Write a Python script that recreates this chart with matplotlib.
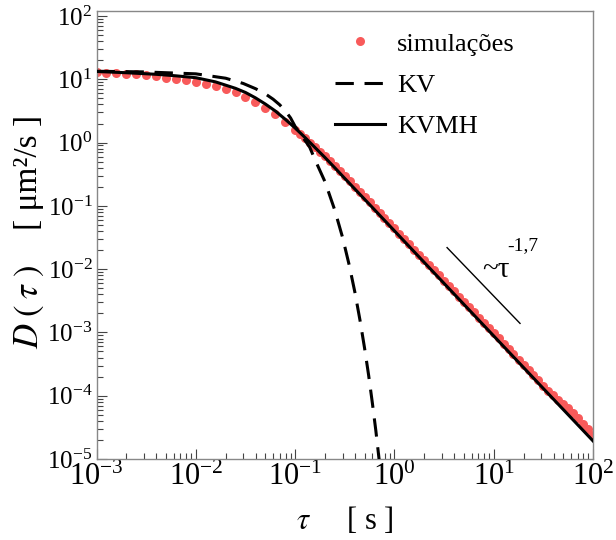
import numpy as np
import matplotlib
matplotlib.use('Agg')
import matplotlib.pyplot as plt

plt.rcParams['font.family'] = 'Liberation Serif'
plt.rcParams['mathtext.fontset'] = 'stix'

# simulacoes (leitura do grafico)
tau_sim = [0.001, 0.00126, 0.00158, 0.002, 0.00251, 0.00316, 0.00398, 0.00501, 0.00631, 0.00794,
           0.01, 0.0126, 0.0158, 0.02, 0.0251, 0.0316, 0.0398, 0.0501, 0.0631, 0.0794,
           0.1, 0.112, 0.126, 0.141, 0.158, 0.178, 0.2, 0.224, 0.251, 0.282,
           0.316, 0.355, 0.398, 0.447, 0.501, 0.562, 0.631, 0.708, 0.794, 0.891,
           1.0, 1.12, 1.26, 1.41, 1.58, 1.78, 2.0, 2.24, 2.51, 2.82,
           3.16, 3.55, 3.98, 4.47, 5.01, 5.62, 6.31, 7.08, 7.94, 8.91,
           10.0, 11.2, 12.6, 14.1, 15.8, 17.8, 20.0, 22.4, 25.1, 28.2,
           31.6, 35.5, 39.8, 44.7, 50.1, 56.2, 63.1, 70.8, 79.4, 89.1, 100.0]
D_sim = [12.9, 12.8, 12.6, 12.3, 12.0, 11.6, 11.1, 10.6, 10.1, 9.7,
         9.2, 8.5, 7.8, 7.0, 6.2, 5.25, 4.35, 3.55, 2.8, 2.15,
         1.585, 1.365, 1.175, 1.0, 0.851, 0.716, 0.603, 0.507, 0.427, 0.355,
         0.295, 0.244, 0.201, 0.166, 0.137, 0.1135, 0.0938, 0.0776, 0.0646, 0.0531,
         0.044, 0.0363, 0.0302, 0.0248, 0.0204, 0.017, 0.014, 0.0115, 0.00955, 0.00794,
         0.00653, 0.00537, 0.00447, 0.00367, 0.00305, 0.00251, 0.00209, 0.00172, 0.00141, 0.00117,
         0.000977, 0.000804, 0.000661, 0.00055, 0.000452, 0.000372, 0.000309, 0.000257, 0.000211, 0.000174,
         0.000145, 0.00012, 0.000102, 8.71e-5, 7.41e-5, 6.31e-5, 5.25e-5, 4.37e-5, 3.55e-5, 2.95e-5, 2.4e-5]

# modelo KV
tau_kv = [0.001, 0.003, 0.01, 0.02, 0.03, 0.04, 0.05, 0.06, 0.07, 0.08, 0.09, 0.1, 0.12, 0.14,
          0.16, 0.2, 0.25, 0.3, 0.35, 0.4, 0.45, 0.5, 0.55, 0.6, 0.65, 0.7, 0.72]
D_kv = [13.4, 13.1, 12.2, 10.4, 8.6, 7.1, 5.9, 4.85, 3.95, 3.15, 2.45, 1.8, 1.2, 0.85,
        0.52, 0.24, 0.087, 0.032, 0.0117, 0.0043, 0.00156, 5.7e-4, 2.1e-4, 7.6e-5, 2.8e-5, 1.0e-5, 7e-6]

# modelo KVMH
tau_kvmh = [0.001, 0.002, 0.00398, 0.00631, 0.01, 0.0158, 0.0251, 0.0316, 0.0398, 0.0501,
            0.0631, 0.0794, 0.1, 0.126, 0.158, 0.2, 0.251, 0.316, 0.562, 1.0, 3.16, 10.0, 31.6, 100.0]
D_kvmh = [13.3, 12.7, 12.0, 11.35, 10.6, 9.1, 7.2, 6.2, 5.1, 4.07,
          3.16, 2.34, 1.70, 1.20, 0.84, 0.58, 0.40, 0.272, 0.105, 0.0403, 0.00596, 0.00088, 1.3e-4, 1.93e-5]

# guia ~tau^-1,7
guide_tau = [3.39, 18.4]
guide_D = [0.0219, 0.00139]

red = '#f85a5a'

fig = plt.figure(figsize=(6.16, 5.40), dpi=100)
ax = fig.add_axes([0.1567, 0.15, 0.806, 0.8296])

ax.plot(tau_sim, D_sim, 'o', color=red, ms=6.5, mew=0, label='simulações', zorder=2)
ax.plot(tau_kv, D_kv, color='black', lw=2.2, dashes=(6, 3.5), label='KV', zorder=3)
ax.plot(tau_kvmh, D_kvmh, color='black', lw=2.2, label='KVMH', zorder=3)
ax.plot(guide_tau, guide_D, color='black', lw=1.0)
ax.text(7.6, 7.5e-3, '~τ', fontsize=21, ha='left', va='baseline')
ax.text(13.6, 0.0201, '-1,7', fontsize=14, ha='left', va='baseline')

ax.set_xscale('log')
ax.set_yscale('log')
ax.set_xlim(1e-3, 1e2)
ax.set_ylim(1e-5, 120)

for s in ax.spines.values():
    s.set_color('#888888')
    s.set_linewidth(1.0)
ax.tick_params(which='both', direction='in', top=False, right=False, color='#444444', width=0.8)
ax.tick_params(which='major', length=7.5)
ax.tick_params(which='minor', length=4)
ax.tick_params(axis='x', labelsize=22, pad=3)
ax.tick_params(axis='y', labelsize=18, pad=3)
ax.yaxis.set_major_locator(matplotlib.ticker.LogLocator(base=10, numticks=20))
ax.yaxis.set_minor_locator(matplotlib.ticker.LogLocator(base=10, subs=np.arange(2, 10), numticks=20))

ax.set_xlabel(r'$\tau$     [ s ]', fontsize=22, labelpad=9)

# rotulo do eixo y em duas partes
fig.text(29 / 616, 1 - 307 / 540, r'$D\;(\;\tau\;)$', fontsize=25, rotation=90,
         ha='center', va='center')
fig.text(29 / 616, 1 - 172 / 540, '[ μm²/s ]', fontsize=24, rotation=90,
         ha='center', va='center')

ax.legend(loc='upper left', bbox_to_anchor=(0.48, 0.953), frameon=False, fontsize=19,
          numpoints=1, handlelength=1.9, handletextpad=0.45, labelspacing=0.68,
          borderpad=0, borderaxespad=0)

fig.savefig('out.png', dpi=100)
